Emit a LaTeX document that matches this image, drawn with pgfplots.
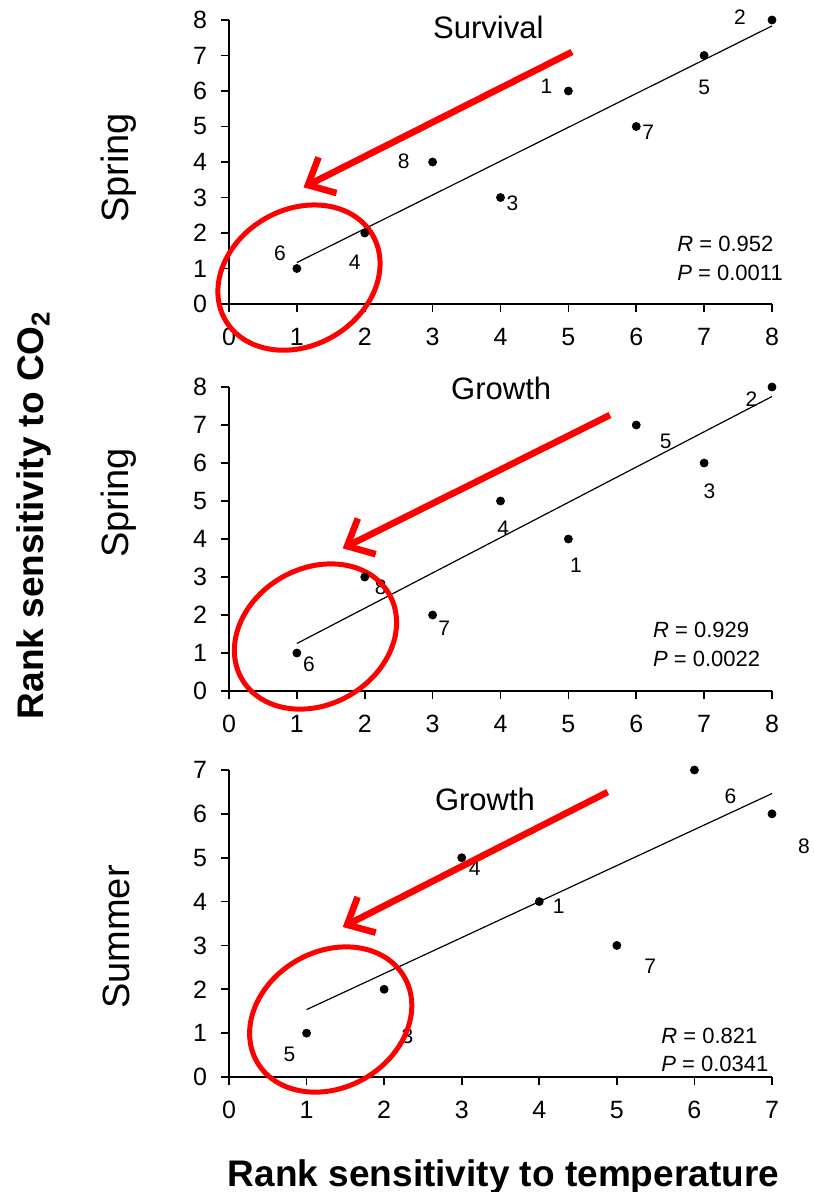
\documentclass[border=0pt]{standalone}
\usepackage{pgfplots}
\pgfplotsset{compat=1.18}
\usepackage{fontspec}
\setmainfont{Liberation Sans}
\usetikzlibrary{arrows.meta}
\pgfplotsset{
  myaxis/.style={
    scale only axis, width=271.5pt,
    axis x line*=bottom, axis y line*=left,
    axis line style={line width=0.8pt, black},
    tick align=outside, major tick length=4pt,
    tick style={line width=0.8pt, black},
    ticklabel style={font=\fontsize{12.5}{13}\selectfont},
    xticklabel style={yshift=-4.5pt},
    yticklabel style={xshift=-3.5pt},
    /pgf/number format/assume math mode=true,
    xtick distance=1, ytick distance=1,
    clip=false, anchor=south west,
  },
}
\tikzset{
  lbl/.style={font=\fontsize{10.5}{11}\selectfont, inner sep=0pt},
  ttl/.style={font=\fontsize{15.5}{16}\selectfont, inner sep=0pt},
  stat/.style={font=\fontsize{11}{12}\selectfont, inner sep=0pt, anchor=base west},
  redarrow/.style={red, line width=3.3pt, -{Straight Barb[length=11pt,width=20pt]}},
  redell/.style={red, line width=2.5pt},
  rowlbl/.style={rotate=90, anchor=base, inner sep=0pt, font=\fontsize{19}{20}\selectfont},
}
\begin{document}
\begin{tikzpicture}
\useasboundingbox (0pt,0pt) rectangle (406.5pt,-596pt);

% ---------- Panel 1: Survival, Spring ----------
\begin{axis}[myaxis, at={(114.5pt,-152pt)}, height=142pt,
  xmin=0, xmax=8, ymin=0, ymax=8]
\addplot[black, line width=0.6pt] coordinates {(1,1.167) (8,7.833)};
\addplot[only marks, mark=*, mark size=2pt, black] coordinates {
 (1,1) (2,2) (3,4) (4,3) (5,6) (6,5) (7,7) (8,8)};
\node[lbl, xshift=-8.5pt, yshift=7.5pt] at (axis cs:1,1) {6};
\node[lbl, xshift=-5pt, yshift=-14.75pt] at (axis cs:2,2) {4};
\node[lbl, xshift=-14.5pt, yshift=0.5pt] at (axis cs:3,4) {8};
\node[lbl, xshift=6pt, yshift=-3pt] at (axis cs:4,3) {3};
\node[lbl, xshift=-11pt, yshift=2.2pt] at (axis cs:5,6) {1};
\node[lbl, xshift=6pt, yshift=-3pt] at (axis cs:6,5) {7};
\node[lbl, xshift=0pt, yshift=-15.8pt] at (axis cs:7,7) {5};
\node[lbl, xshift=-16pt, yshift=1.6pt] at (axis cs:8,8) {2};
\node[ttl] at (axis cs:3.82,7.80) {Survival};
\node[stat] at (axis cs:6.60,1.479) {\textit{R} = 0.952};
\node[stat] at (axis cs:6.60,0.648) {\textit{P} = 0.0011};
\draw[redarrow] (axis cs:5.053,7.10) -- (axis cs:1.098,3.287);
\draw[redell, rotate around={30:(axis cs:1.031,0.744)}] (axis cs:1.031,0.744) ellipse [x radius=42.5pt, y radius=34pt];
\end{axis}

% ---------- Panel 2: Growth, Spring ----------
\begin{axis}[myaxis, at={(114.5pt,-345.5pt)}, height=152pt,
  xmin=0, xmax=8, ymin=0, ymax=8]
\addplot[black, line width=0.6pt] coordinates {(1,1.25) (8,7.75)};
\addplot[only marks, mark=*, mark size=2pt, black] coordinates {
 (1,1) (2,3) (3,2) (4,5) (5,4) (6,7) (7,6) (8,8)};
\node[lbl, xshift=6pt, yshift=-5.7pt] at (axis cs:1,1) {6};
\node[lbl, xshift=8pt, yshift=-5pt] at (axis cs:2,3) {8};
\node[lbl, xshift=5.8pt, yshift=-6.7pt] at (axis cs:3,2) {7};
\node[lbl, xshift=1.3pt, yshift=-13.8pt] at (axis cs:4,5) {4};
\node[lbl, xshift=3.8pt, yshift=-13pt] at (axis cs:5,4) {1};
\node[lbl, xshift=14.7pt, yshift=-8.3pt] at (axis cs:6,7) {5};
\node[lbl, xshift=2.7pt, yshift=-14.2pt] at (axis cs:7,6) {3};
\node[lbl, xshift=-10.3pt, yshift=-6.3pt] at (axis cs:8,8) {2};
\node[ttl] at (axis cs:4.01,7.97) {Growth};
\node[stat] at (axis cs:6.242,1.395) {\textit{R} = 0.929};
\node[stat] at (axis cs:6.242,0.632) {\textit{P} = 0.0022};
\draw[redarrow] (axis cs:5.613,7.263) -- (axis cs:1.675,3.755);
\draw[redell, rotate around={30:(axis cs:1.274,1.434)}] (axis cs:1.274,1.434) ellipse [x radius=42.5pt, y radius=34pt];
\end{axis}

% ---------- Panel 3: Growth, Summer ----------
\begin{axis}[myaxis, at={(114.5pt,-538.5pt)}, height=153.5pt,
  xmin=0, xmax=7, ymin=0, ymax=7]
\addplot[black, line width=0.6pt] coordinates {(1,1.537) (7,6.463)};
\addplot[only marks, mark=*, mark size=2pt, black] coordinates {
 (1,1) (2,2) (3,5) (4,4) (5,3) (6,7) (7,6)};
\node[lbl, xshift=-8.5pt, yshift=-10.75pt] at (axis cs:1,1) {5};
\node[lbl, xshift=11.6pt, yshift=-23.5pt] at (axis cs:2,2) {3};
\node[lbl, xshift=6.5pt, yshift=-5.5pt] at (axis cs:3,5) {4};
\node[lbl, xshift=9.7pt, yshift=-2.5pt] at (axis cs:4,4) {1};
\node[lbl, xshift=16.7pt, yshift=-10.5pt] at (axis cs:5,3) {7};
\node[lbl, xshift=18pt, yshift=-13pt] at (axis cs:6,7) {6};
\node[lbl, xshift=16pt, yshift=-16pt] at (axis cs:7,6) {8};
\node[ttl] at (axis cs:3.30,6.32) {Growth};
\node[stat] at (axis cs:5.569,0.775) {\textit{R} = 0.821};
\node[stat] at (axis cs:5.569,0.137) {\textit{P} = 0.0341};
\draw[redarrow] (axis cs:4.882,6.498) -- (axis cs:1.466,3.42);
\draw[redell, rotate around={30:(axis cs:1.311,1.311)}] (axis cs:1.311,1.311) ellipse [x radius=42.5pt, y radius=34pt];
\end{axis}

% ---------- Row labels and axis titles ----------
\node[rowlbl] at (64.25pt,-84pt) {Spring};
\node[rowlbl] at (64.25pt,-251.5pt) {Spring};
\node[rowlbl] at (64.75pt,-468.5pt) {Summer};
\node[rotate=90, anchor=base, inner sep=0pt, font=\bfseries\fontsize{18.5}{19}\selectfont] at (21.75pt,-257.5pt) {Rank sensitivity to CO\textsubscript{2}};
\node[anchor=base, inner sep=0pt, font=\bfseries\fontsize{18.5}{19}\selectfont] at (251.75pt,-593.3pt) {Rank sensitivity to temperature};
\end{tikzpicture}
\end{document}
